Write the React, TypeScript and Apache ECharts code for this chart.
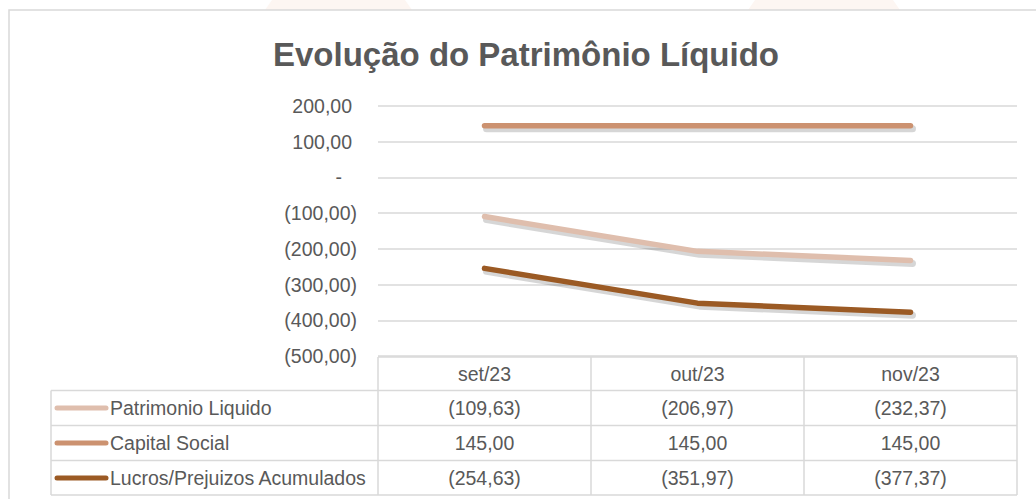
import React, { useEffect, useRef } from "react";
import * as echarts from "echarts";

const categories = ["set/23", "out/23", "nov/23"];
const seriesNames = ["Patrimonio Liquido", "Capital Social", "Lucros/Prejuizos Acumulados"];
const patrimonioLiquido = [-109.63, -206.97, -232.37];
const capitalSocial = [145.0, 145.0, 145.0];
const lucrosPrejuizos = [-254.63, -351.97, -377.37];
const seriesColors = ["#DFBEAD", "#CC9270", "#9B5A24"];
const yTicks = { min: -500, max: 200, interval: 100 };
const titleText = "Evolução do Patrimônio Líquido";

const FONT = "'Liberation Sans', Arial, sans-serif";
const TXT = "#595959";
const LINE = "#D9D9D9";
const FS = 19.5;

function fmtNum(v: number): string {
  const a = Math.abs(v).toFixed(2).replace(".", ",");
  return v < 0 ? "(" + a + ")" : a;
}

export default function App() {
  const ref = useRef<HTMLDivElement>(null);
  useEffect(() => {
    if (!ref.current) return;
    const chart = echarts.init(ref.current, undefined, { renderer: "svg" });
    const gridLeft = 378;
    const gridRight = 1017;
    const gridTop = 106;
    const gridBottom = 356;
    const sdx = 2;
    const sdy = 3;
    const data = [patrimonioLiquido, capitalSocial, lucrosPrejuizos];

    const hiddenAxis = { show: false };

    chart.setOption({
      animation: false,
      backgroundColor: "#ffffff",
      grid: [
        { left: gridLeft, right: 1036 - gridRight, top: gridTop, bottom: 499 - gridBottom, containLabel: false },
        { left: gridLeft + sdx, right: 1036 - gridRight - sdx, top: gridTop + sdy, bottom: 499 - gridBottom - sdy, containLabel: false },
      ],
      xAxis: [
        {
          type: "category",
          gridIndex: 0,
          data: categories,
          boundaryGap: true,
          axisLine: { show: false },
          axisTick: { show: false },
          splitLine: { show: false },
          axisLabel: { margin: 17.5, verticalAlign: "middle", color: TXT, fontSize: FS, fontFamily: FONT },
        },
        { type: "category", gridIndex: 1, data: categories, boundaryGap: true, ...hiddenAxis },
      ],
      yAxis: [
        {
          type: "value",
          gridIndex: 0,
          min: yTicks.min,
          max: yTicks.max,
          interval: yTicks.interval,
          axisLine: { show: false },
          axisTick: { show: false },
          splitLine: { lineStyle: { color: LINE, width: 1.5 } },
          axisLabel: {
            margin: 21,
            color: TXT,
            fontSize: FS,
            fontFamily: FONT,
            formatter: (v: number) => (v === 0 ? "{z|-}" : v < 0 ? "{n|" + fmtNum(v) + "}" : "{p|" + fmtNum(v) + "}"),
            rich: {
              z: { padding: [0, 15, 0, 0], color: TXT, fontSize: FS, fontFamily: FONT },
              n: { color: TXT, fontSize: FS, fontFamily: FONT },
              p: { padding: [0, 5, 0, 0], color: TXT, fontSize: FS, fontFamily: FONT },
            },
          },
        },
        { type: "value", gridIndex: 1, min: yTicks.min, max: yTicks.max, interval: yTicks.interval, ...hiddenAxis },
      ],
      series: [
        ...data.map((d, i) => ({
          name: seriesNames[i] + " (sombra)",
          type: "line",
          xAxisIndex: 1,
          yAxisIndex: 1,
          data: d,
          symbol: "none",
          silent: true,
          z: 1,
          lineStyle: { color: "rgba(0,0,0,0.16)", width: 7, cap: "round", join: "round" },
        })),
        ...data.map((d, i) => ({
          name: seriesNames[i],
          type: "line",
          xAxisIndex: 0,
          yAxisIndex: 0,
          data: d,
          symbol: "none",
          z: 3,
          lineStyle: { color: seriesColors[i], width: 5.5, cap: "round", join: "round" },
          itemStyle: { color: seriesColors[i] },
        })),
      ],
    });

    const centers = categories.map((c) => chart.convertToPixel({ xAxisIndex: 0 }, c) as number);
    const step = centers.length > 1 ? centers[1] - centers[0] : gridRight - gridLeft;
    const colEdges = [centers[0] - step / 2, ...centers.map((c) => c + step / 2)];
    const tableLeft = 51;
    const headerTop = 357;
    const rowH = 35;
    const rowTops = [390.5, 425.5, 460.5];
    const tableBottom = 495;

    const els: any[] = [];
    els.push({ type: "polygon", shape: { points: [[272, 0], [405, 0], [412, 10], [265, 10]] }, style: { fill: "#FDF6F2" }, silent: true });
    els.push({ type: "polygon", shape: { points: [[755, 0], [893, 0], [900, 10], [748, 10]] }, style: { fill: "#FDF6F2" }, silent: true });
    els.push({ type: "rect", shape: { x: 9, y: 10, width: 1040, height: 500 }, style: { fill: "none", stroke: LINE, lineWidth: 1.5 }, silent: true });
    els.push({
      type: "text",
      x: 526,
      y: 54,
      style: { text: titleText, align: "center", verticalAlign: "middle", fill: TXT, font: "bold 33px " + FONT },
    });
    els.push({ type: "line", shape: { x1: colEdges[0], y1: headerTop, x2: colEdges[colEdges.length - 1], y2: headerTop }, style: { stroke: LINE, lineWidth: 1.5 } });
    [...rowTops, tableBottom].forEach((y) => {
      els.push({ type: "line", shape: { x1: tableLeft, y1: y, x2: colEdges[colEdges.length - 1], y2: y }, style: { stroke: LINE, lineWidth: 1.5 } });
    });
    els.push({ type: "line", shape: { x1: tableLeft, y1: rowTops[0], x2: tableLeft, y2: tableBottom }, style: { stroke: LINE, lineWidth: 1.5 } });
    colEdges.forEach((x) => {
      els.push({ type: "line", shape: { x1: x, y1: headerTop, x2: x, y2: tableBottom }, style: { stroke: LINE, lineWidth: 1.5 } });
    });
    data.forEach((d, i) => {
      const cy = rowTops[i] + rowH / 2;
      els.push({ type: "line", shape: { x1: 57, y1: cy, x2: 106, y2: cy }, style: { stroke: seriesColors[i], lineWidth: 5, lineCap: "round" } });
      els.push({ type: "text", x: 110, y: cy, style: { text: seriesNames[i], align: "left", verticalAlign: "middle", fill: TXT, fontSize: FS, fontFamily: FONT } });
      d.forEach((v, j) => {
        els.push({ type: "text", x: centers[j], y: cy, style: { text: fmtNum(v), align: "center", verticalAlign: "middle", fill: TXT, fontSize: FS, fontFamily: FONT } });
      });
    });
    chart.setOption({ graphic: { elements: els } });

    return () => chart.dispose();
  }, []);
  return <div ref={ref} style={{ position: "fixed", left: 0, top: 0, width: 1036, height: 499 }} />;
}
